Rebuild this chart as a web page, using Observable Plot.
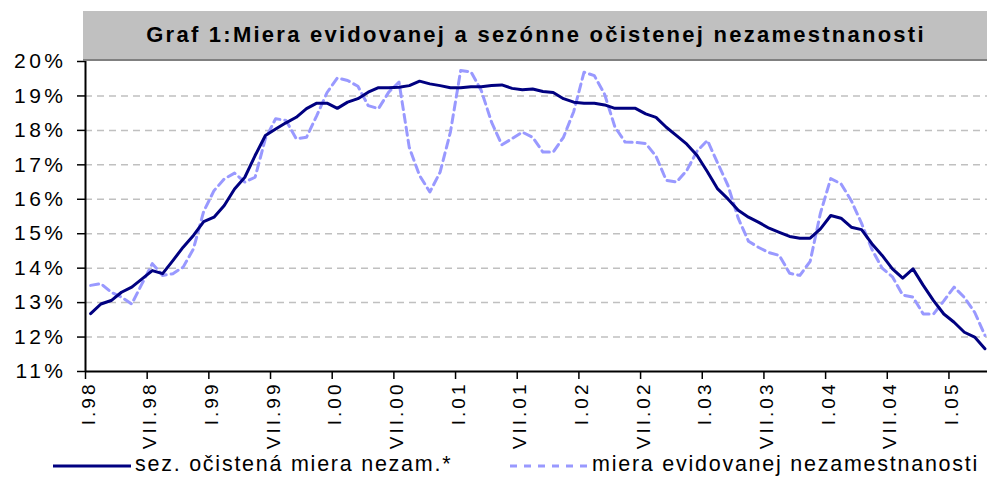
<!DOCTYPE html>
<html>
<head>
<meta charset="utf-8">
<script src="https://cdn.jsdelivr.net/npm/d3@7"></script>
<script src="https://cdn.jsdelivr.net/npm/@observablehq/plot@0.6"></script>
<style>
  body { margin: 0; background: #fff; }
  #wrap { position: relative; width: 987px; height: 478px; overflow: hidden; font-family: "Liberation Sans", Arial, sans-serif; }
  #title { position: absolute; left: 83px; top: 11px; width: 906px; height: 48px; line-height: 48px; background: #c0c0c0; border-bottom: 2px solid #808080; text-align: center; font-weight: bold; font-size: 22px; letter-spacing: 2.25px; color: #000; white-space: nowrap; }
  .leg { position: absolute; top: 452px; height: 24px; line-height: 24px; display: flex; align-items: center; font-size: 21.5px; letter-spacing: 1.75px; color: #000; white-space: nowrap; }
  .leg svg { margin-right: 4px; margin-top: 4px; }
  g[aria-label="y-axis tick label"] text { letter-spacing: 3.5px; }
  g[aria-label="x-axis tick label"] text { letter-spacing: 3px; }
</style>
</head>
<body>
<div id="wrap"></div>
<script>
// Seasonally adjusted unemployment rate (%), monthly I.1998 – IV.2005
const sezOcistena = [
  12.68, 12.96, 13.06, 13.30, 13.45, 13.69, 13.93, 13.84, 14.22, 14.61,
  14.95, 15.35, 15.48, 15.82, 16.30, 16.64, 17.27, 17.85, 18.04, 18.22,
  18.38, 18.63, 18.79, 18.79, 18.64, 18.82, 18.92, 19.11, 19.24, 19.24,
  19.25, 19.30, 19.43, 19.35, 19.30, 19.24, 19.24, 19.27, 19.27, 19.30,
  19.32, 19.22, 19.18, 19.20, 19.13, 19.10, 18.92, 18.82, 18.79, 18.79,
  18.74, 18.64, 18.64, 18.64, 18.48, 18.38, 18.09, 17.85, 17.60, 17.27,
  16.80, 16.30, 16.01, 15.68, 15.48, 15.33, 15.16, 15.04, 14.92, 14.87,
  14.87, 15.14, 15.53, 15.45, 15.19, 15.12, 14.71, 14.37, 13.98, 13.71,
  13.98, 13.50, 13.06, 12.67, 12.43, 12.14, 12.00, 11.66
];
// Registered unemployment rate (%), monthly I.1998 – IV.2005
const evidovana = [
  13.50, 13.55, 13.30, 13.16, 12.96, 13.55, 14.13, 13.79, 13.84, 14.03,
  14.56, 15.65, 16.25, 16.59, 16.76, 16.50, 16.64, 17.76, 18.34, 18.29,
  17.76, 17.80, 18.43, 19.10, 19.52, 19.45, 19.28, 18.72, 18.63, 19.11,
  19.40, 17.50, 16.69, 16.21, 16.79, 17.95, 19.74, 19.70, 19.16, 18.24,
  17.58, 17.76, 17.95, 17.80, 17.37, 17.37, 17.80, 18.55, 19.69, 19.59,
  19.05, 18.10, 17.66, 17.65, 17.62, 17.25, 16.55, 16.50, 16.84, 17.40,
  17.71, 17.05, 16.40, 15.45, 14.78, 14.60, 14.45, 14.37, 13.85, 13.79,
  14.20, 15.60, 16.60, 16.45, 15.96, 15.30, 14.55, 14.00, 13.75, 13.22,
  13.16, 12.67, 12.67, 13.05, 13.45, 13.15, 12.72, 12.05
];
const xTickLabels = ["I.98","VII.98","I.99","VII.99","I.00","VII.00","I.01","VII.01","I.02","VII.02","I.03","VII.03","I.04","VII.04","I.05"];
const xTickPos = xTickLabels.map((_, k) => k * 6);
const yTicks = [11, 12, 13, 14, 15, 16, 17, 18, 19, 20];
const gridVals = [12, 13, 14, 15, 16, 17, 18, 19];
const titleText = "Graf 1:Miera evidovanej a sezónne očistenej nezamestnanosti";
const seriesNames = ["sez. očistená miera nezam.*", "miera evidovanej nezamestnanosti"];
const colors = ["#000080", "#9999ff"];

const mid = (d, i) => i + 0.5;

const chart = Plot.plot({
  width: 987,
  height: 478,
  marginLeft: 85,
  marginRight: 0,
  marginTop: 61,
  marginBottom: 107,
  style: { fontFamily: "'Liberation Sans', Arial, sans-serif", background: "#fff", color: "#000" },
  x: { domain: [0, 87.75], label: null },
  y: { domain: [11, 20], label: null },
  marks: [
    Plot.ruleY(gridVals, { stroke: "#c0c0c0", strokeWidth: 1.5, strokeDasharray: "7,5" }),
    Plot.line(evidovana, { x: mid, y: d => d, stroke: colors[1], strokeWidth: 3, strokeDasharray: "8,5" }),
    Plot.line(sezOcistena, { x: mid, y: d => d, stroke: colors[0], strokeWidth: 3 }),
    Plot.ruleX([0], { stroke: "#000", strokeWidth: 2 }),
    Plot.ruleY([11], { stroke: "#000", strokeWidth: 2 }),
    Plot.axisY({ ticks: yTicks, tickFormat: d => d + "%", tickSize: 8, tickPadding: 11, fontSize: 21, strokeWidth: 1.5, label: null }),
    Plot.axisX({ ticks: xTickPos, tickFormat: () => "", tickSize: 8, strokeWidth: 1.5, label: null }),
    Plot.axisX({ ticks: xTickPos, tickFormat: d => xTickLabels[Math.round(d / 6)], tickSize: 0, tickPadding: 10, tickRotate: -90, fontSize: 19, dx: 3, label: null })
  ]
});

const wrap = document.getElementById("wrap");
wrap.appendChild(chart);

const title = document.createElement("div");
title.id = "title";
title.textContent = titleText;
wrap.appendChild(title);

function legendItem(left, name, color, dash) {
  const d = document.createElement("div");
  d.className = "leg";
  d.style.left = left + "px";
  d.innerHTML = `<svg width="78" height="10"><line x1="0" y1="5" x2="78" y2="5" stroke="${color}" stroke-width="3" ${dash ? `stroke-dasharray="${dash}"` : ""}/></svg><span>${name}</span>`;
  wrap.appendChild(d);
}
legendItem(53, seriesNames[0], colors[0], null);
legendItem(510, seriesNames[1], colors[1], "7,7");
</script>
</body>
</html>
